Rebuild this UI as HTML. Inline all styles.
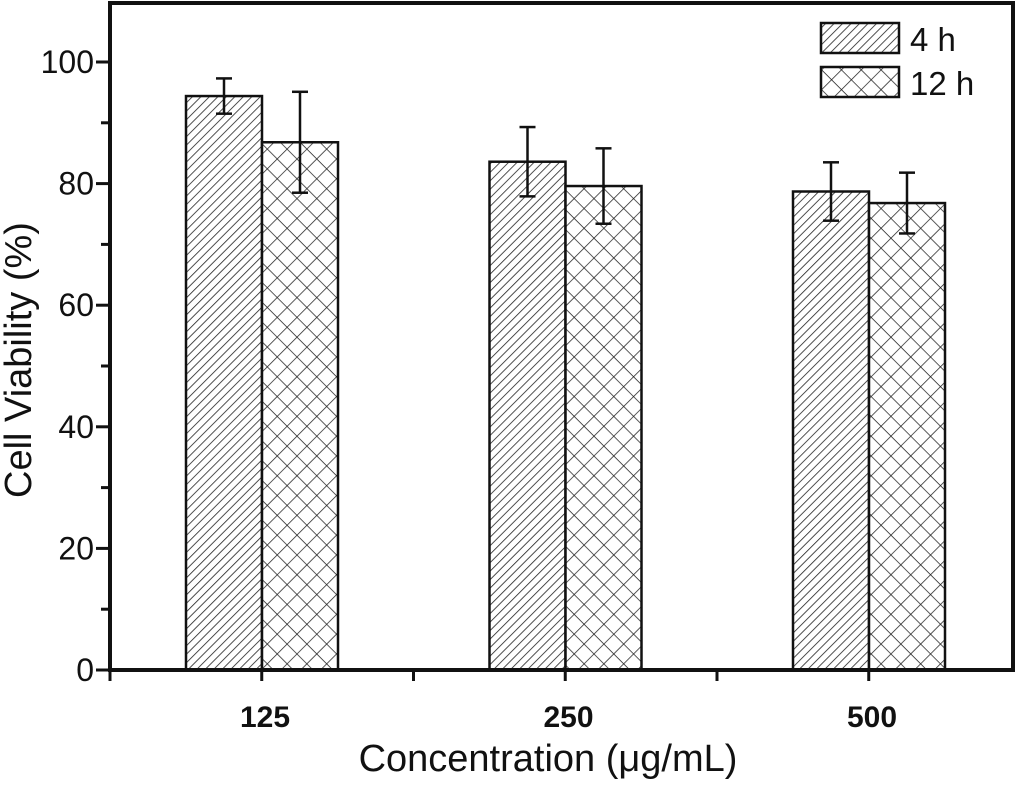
<!DOCTYPE html>
<html><head><meta charset="utf-8"><style>
body{margin:0;background:#fff}
svg text{font-family:"Liberation Sans",Arial,sans-serif;fill:#111}
</style></head><body>
<svg id="chart" width="1024" height="782" viewBox="0 0 1024 782" xmlns="http://www.w3.org/2000/svg">
<defs>
<pattern id="diag" patternUnits="userSpaceOnUse" width="6" height="6" patternTransform="rotate(45)">
<rect width="6" height="6" fill="#fff"/><line x1="0" y1="0" x2="0" y2="6" stroke="#222" stroke-width="1.6"/>
</pattern>
<pattern id="cross" patternUnits="userSpaceOnUse" width="14" height="14" patternTransform="rotate(45)">
<rect width="14" height="14" fill="#fff"/><line x1="0" y1="0" x2="0" y2="14" stroke="#222" stroke-width="1.5"/><line x1="0" y1="0" x2="14" y2="0" stroke="#222" stroke-width="1.5"/>
</pattern>
</defs>
<g id="plot"></g>
</svg>
<script>
const categories = ["125","250","500"];
const series4h = [94.4, 83.6, 78.7];
const err4h = [2.9, 5.7, 4.8];
const series12h = [86.8, 79.6, 76.8];
const err12h = [8.3, 6.2, 5.0];
const yTicks = [0,20,40,60,80,100];

const NS="http://www.w3.org/2000/svg";
const g=document.getElementById('plot');
const X0=110,X1=1013,Y0=670,YTOP=3;
const yScale=v=>Y0-v*6.08;
const catX=i=>262+i*303.5;
const BW=76;
function el(tag,attrs,parent){const e=document.createElementNS(NS,tag);for(const k in attrs)e.setAttribute(k,attrs[k]);(parent||g).appendChild(e);return e;}

function drawSeries(vals,errs,offset,fill,name){
  vals.forEach((v,i)=>{
    const x=catX(i)+offset;
    const r=el('rect',{x:x,y:yScale(v),width:BW,height:Y0-yScale(v),fill:fill,stroke:'#111','stroke-width':2.5});
    
    
    const cx=x+BW/2,t=yScale(v+errs[i]),b=yScale(v-errs[i]);
    const eg=el('g',{stroke:'#111','stroke-width':2.5});
    
    
    el('line',{x1:cx,y1:t,x2:cx,y2:b},eg);
    el('line',{x1:cx-8,y1:t,x2:cx+8,y2:t},eg);
    el('line',{x1:cx-8,y1:b,x2:cx+8,y2:b},eg);
  });
}
drawSeries(series4h,err4h,-BW,'url(#diag)','4h');
drawSeries(series12h,err12h,0,'url(#cross)','12h');

const fr=el('rect',{x:X0,y:YTOP,width:X1-X0,height:Y0-YTOP,fill:'none',stroke:'#111','stroke-width':4});



for(let v=0;v<=100;v+=10){
  const y=yScale(v);const major=v%20===0;
  el('line',{x1:X0-(major?14:9),y1:y,x2:X0,y2:y,stroke:'#111','stroke-width':3});
}
yTicks.forEach(v=>{
  const t=el('text',{x:X0-16,y:yScale(v)+11,'text-anchor':'end','font-size':32});
  t.textContent=v;
  
  
});
for(let k=0;k<6;k++){
  const x=X0+k*151.75;
  el('line',{x1:x,y1:Y0,x2:x,y2:Y0+11,stroke:'#111','stroke-width':3});
}
categories.forEach((c,i)=>{
  const t=el('text',{x:catX(i)+3,y:727,'text-anchor':'middle','font-size':30,'font-weight':'bold'});
  t.textContent=c;
  
  
});
const xt=el('text',{x:548,y:771,'text-anchor':'middle','font-size':38});
xt.textContent='Concentration (\u03bcg/mL)';


const yt=el('text',{x:0,y:0,'text-anchor':'middle','font-size':38,transform:'translate(31,360) rotate(-90)'});
yt.textContent='Cell Viability (%)';


[['4 h','url(#diag)',23],['12 h','url(#cross)',67]].forEach(([lab,f,y])=>{
  const lg=el('g',{});
  
  
  el('rect',{x:821,y:y,width:78,height:30,fill:f,stroke:'#111','stroke-width':2.5},lg);
  const t=el('text',{x:910,y:y+28,'font-size':33},lg);t.textContent=lab;
});
</script>
</body></html>
